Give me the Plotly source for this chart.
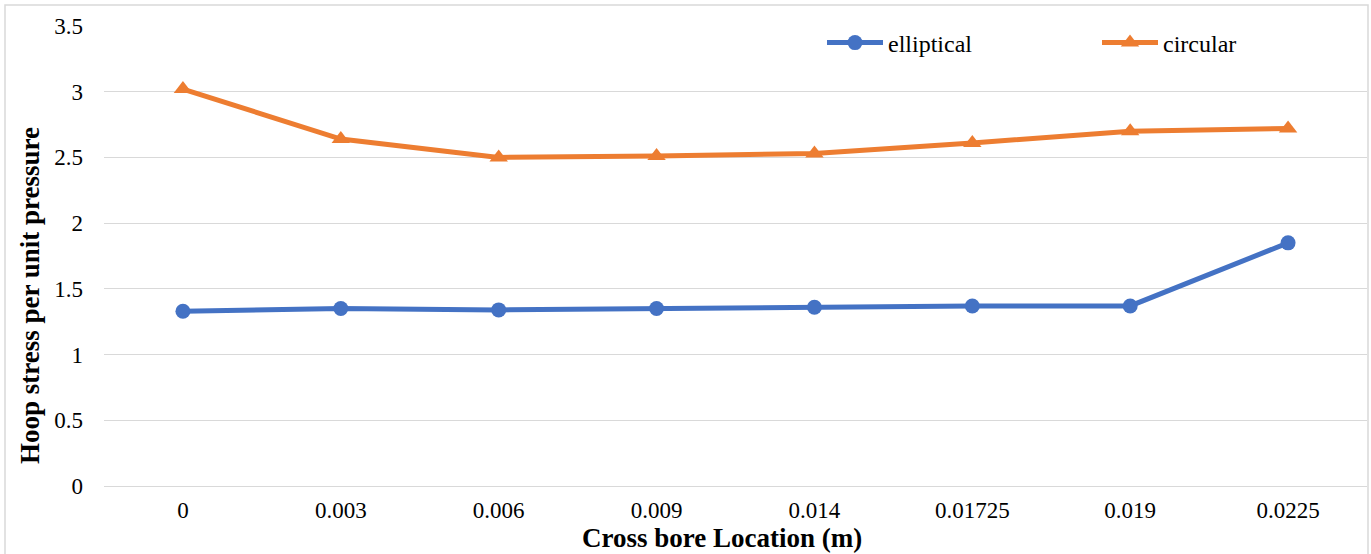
import plotly.graph_objects as go

# Cross bore locations (m) and hoop stress per unit pressure
locations = ["0", "0.003", "0.006", "0.009", "0.014", "0.01725", "0.019", "0.0225"]
elliptical = [1.33, 1.35, 1.34, 1.35, 1.36, 1.37, 1.37, 1.85]
circular = [3.02, 2.64, 2.50, 2.51, 2.53, 2.61, 2.70, 2.72]
y_ticks = [0, 0.5, 1, 1.5, 2, 2.5, 3, 3.5]

W, H = 1371, 554
ML, MR, MT, MB = 104, 4, 26, 68

BLUE = "#4472C4"
ORANGE = "#ED7D31"
GRID = "#d9d9d9"
FONT = "Liberation Serif, Times New Roman, serif"

pw = W - ML - MR
ph = H - MT - MB


def px_x(x):
    return (x - ML) / pw


def px_y(y):
    return (H - MB - y) / ph


fig = go.Figure()
fig.add_trace(go.Scatter(
    x=locations, y=elliptical, name="elliptical", mode="lines+markers",
    line=dict(color=BLUE, width=5),
    marker=dict(symbol="circle", size=15, color=BLUE),
    legend="legend",
))
fig.add_trace(go.Scatter(
    x=locations, y=circular, name="circular", mode="lines+markers",
    line=dict(color=ORANGE, width=5),
    marker=dict(symbol="triangle-up", size=16, color=ORANGE),
    legend="legend2",
))

# thin outer frame around the chart area
fig.add_shape(
    type="rect", xref="paper", yref="paper",
    x0=px_x(5), x1=px_x(1368), y0=px_y(560), y1=px_y(5),
    line=dict(color="#d9d9d9", width=1.5), fillcolor="rgba(0,0,0,0)",
    layer="below",
)

# axis titles
fig.add_annotation(
    text="<b>Cross bore Location (m)</b>", xref="paper", yref="paper",
    x=px_x(722), y=px_y(538), xanchor="center", yanchor="middle",
    showarrow=False, font=dict(family=FONT, size=27, color="black"),
)
fig.add_annotation(
    text="<b>Hoop stress per unit pressure</b>", xref="paper", yref="paper",
    x=px_x(30), y=px_y(296), xanchor="center", yanchor="middle",
    textangle=-90, showarrow=False,
    font=dict(family=FONT, size=27, color="black"),
)


def legend_box(x_px):
    return dict(
        orientation="h", x=px_x(x_px), xanchor="left",
        y=px_y(43), yanchor="middle",
        font=dict(family=FONT, size=24, color="black"),
        itemwidth=56, bgcolor="rgba(0,0,0,0)",
    )


fig.update_layout(
    width=W, height=H,
    margin=dict(l=ML, r=MR, t=MT, b=MB, autoexpand=False),
    paper_bgcolor="white", plot_bgcolor="white",
    font=dict(family=FONT, size=23, color="black"),
    showlegend=True,
    legend=legend_box(822),
    legend2=legend_box(1097),
    xaxis=dict(
        type="category", categoryorder="array", categoryarray=locations,
        range=[-0.5, len(locations) - 0.5],
        showgrid=False, showline=False, zeroline=False,
        tickfont=dict(family=FONT, size=23, color="black"),
        ticklabelstandoff=8,
    ),
    yaxis=dict(
        range=[0, 3.5], tickvals=y_ticks,
        ticktext=[f"{v:g}" for v in y_ticks],
        showgrid=True, gridcolor=GRID, gridwidth=1.3,
        zeroline=True, zerolinecolor=GRID, zerolinewidth=1.3,
        showline=False,
        tickfont=dict(family=FONT, size=23, color="black"),
        ticklabelstandoff=20,
    ),
)

fig.write_html("out.html")
